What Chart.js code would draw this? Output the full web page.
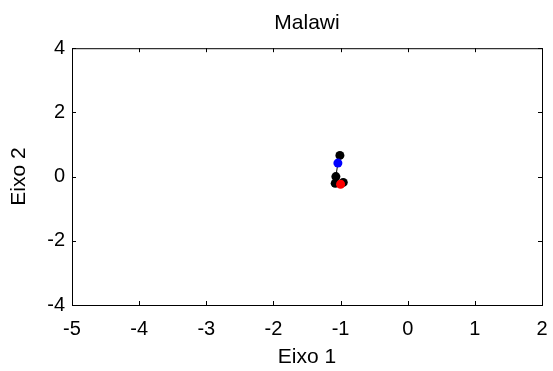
<!DOCTYPE html>
<html>
<head>
<title>Malawi</title>
<script src="https://cdn.jsdelivr.net/npm/chart.js@4/dist/chart.umd.min.js"></script>
<style>
body { margin:0; background:#ffffff; }
#wrap { width:553px; height:371px; }
</style>
</head>
<body>
<div id="wrap"><canvas id="grafico"></canvas></div>
<script>
// valores
var xPretos = [-1.01, -1.07, -1.08, -0.96];
var yPretos = [0.66, 0.0, -0.21, -0.18];
var xAzul = [-1.04];
var yAzul = [0.42];
var xVermelho = [-1.0];
var yVermelho = [-0.24];
var xTicks = [-5, -4, -3, -2, -1, 0, 1, 2];
var yTicks = [-4, -2, 0, 2, 4];

function pares(xs, ys) {
  var out = [];
  for (var i = 0; i < xs.length; i++) out.push({x: xs[i], y: ys[i]});
  return out;
}

// caixa e marcas para dentro, estilo matlab
var caixa = {
  id: 'caixa',
  afterDraw: function (chart) {
    var c = chart.ctx, a = chart.chartArea;
    var sx = chart.scales.x, sy = chart.scales.y;
    c.save();
    c.strokeStyle = '#000';
    c.lineWidth = 1;
    c.strokeRect(a.left + 0.5, a.top + 0.5, a.right - a.left, a.bottom - a.top);
    c.beginPath();
    xTicks.forEach(function (v) {
      var p = Math.round(sx.getPixelForValue(v)) + 0.5;
      c.moveTo(p, a.bottom); c.lineTo(p, a.bottom - 4);
      c.moveTo(p, a.top); c.lineTo(p, a.top + 4);
    });
    yTicks.forEach(function (v) {
      var p = Math.round(sy.getPixelForValue(v)) + 0.5;
      c.moveTo(a.left, p); c.lineTo(a.left + 4, p);
      c.moveTo(a.right, p); c.lineTo(a.right - 4, p);
    });
    c.stroke();
    c.restore();
  }
};

var fonteTick = { family: 'Liberation Sans', size: 20 };
var fonteTitulo = { family: 'Liberation Sans', size: 21, weight: 'normal' };

var ctx = document.getElementById('grafico').getContext('2d');
var chart = new Chart(ctx, {
  type: 'scatter',
  data: {
    datasets: [
      {
        data: [{x: xAzul[0], y: yAzul[0]}, {x: xPretos[1], y: yPretos[1]}],
        showLine: true, borderColor: '#000', borderWidth: 1,
        pointRadius: 0, order: 4
      },
      {
        data: pares(xPretos, yPretos),
        backgroundColor: '#000', borderWidth: 0, pointRadius: 4.5, order: 3
      },
      {
        data: pares(xAzul, yAzul),
        backgroundColor: '#0000ff', borderWidth: 0, pointRadius: 4.5, order: 2
      },
      {
        data: pares(xVermelho, yVermelho),
        backgroundColor: '#ff0000', borderWidth: 0, pointRadius: 4.5, order: 1
      }
    ]
  },
  plugins: [caixa],
  options: {
    responsive: true,
    maintainAspectRatio: false,
    animation: false,
    layout: { padding: { top: 0, right: 11, left: 0, bottom: 0 } },
    plugins: {
      legend: { display: false },
      tooltip: { enabled: false },
      title: {
        display: true, text: 'Malawi', color: '#000', fullSize: false,
        font: fonteTitulo,
        padding: { top: 11, bottom: 12 }
      }
    },
    scales: {
      x: {
        type: 'linear', min: -5, max: 2,
        afterFit: function (s) { s.height = 66; s.paddingLeft = 0; s.paddingRight = 0; },
        afterBuildTicks: function (s) { s.ticks = xTicks.map(function (v) { return {value: v}; }); },
        grid: { display: false, drawTicks: false },
        border: { display: false },
        ticks: { color: '#000', font: fonteTick, padding: 12, maxRotation: 0 },
        title: { display: true, text: 'Eixo 1', color: '#000', font: fonteTitulo, padding: { top: 0, bottom: 1 } }
      },
      y: {
        type: 'linear', min: -4, max: 4,
        afterFit: function (s) { s.width = 72; s.paddingTop = 0; s.paddingBottom = 0; },
        afterBuildTicks: function (s) { s.ticks = yTicks.map(function (v) { return {value: v}; }); },
        grid: { display: false, drawTicks: false },
        border: { display: false },
        ticks: { color: '#000', font: fonteTick, padding: 7 },
        title: { display: true, text: 'Eixo 2', color: '#000', font: fonteTitulo, padding: { top: 7, bottom: 0 } }
      }
    }
  }
});
</script>
</body>
</html>
